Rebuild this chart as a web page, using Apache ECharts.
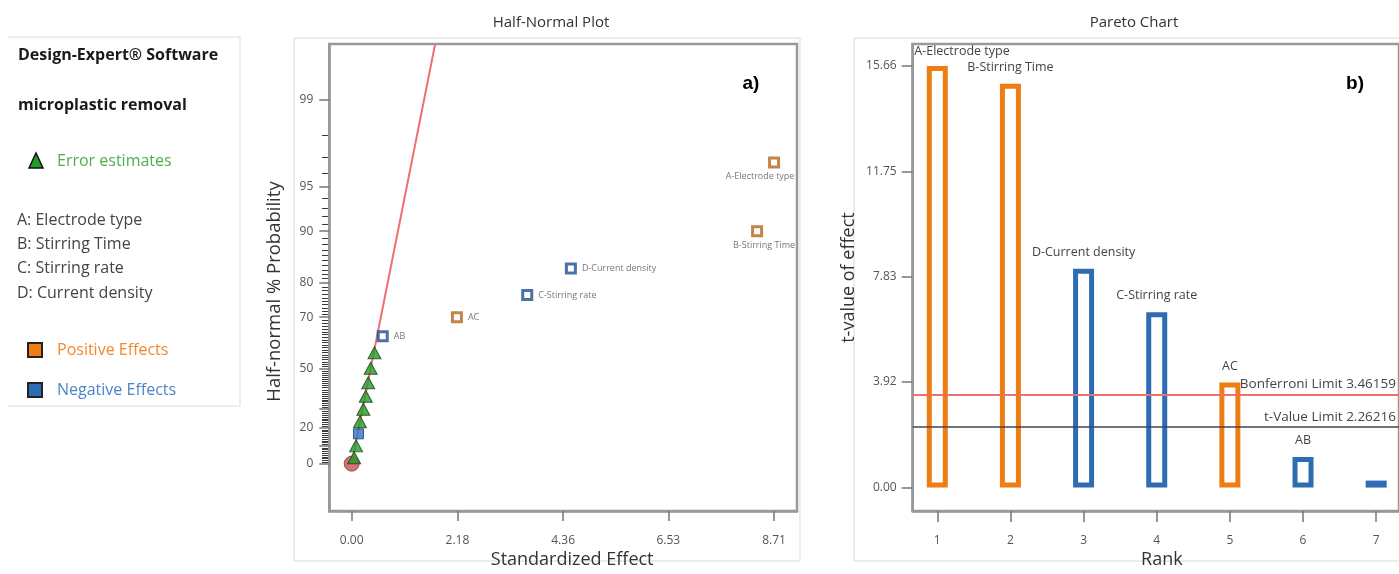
<!DOCTYPE html>
<html><head><meta charset="utf-8">
<script src="https://cdn.jsdelivr.net/npm/echarts@6/dist/echarts.min.js"></script>
<style>html,body{margin:0;padding:0;background:#fff}#c{width:1399px;height:574px}</style>
</head><body><div id="c"></div>
<script>
// ---------- Half-normal plot data ----------
const errorEffects = [0.05, 0.09, 0.17, 0.24, 0.29, 0.34, 0.39, 0.47];
const errorProbs   = [3.3, 10.0, 23.3, 30.0, 36.7, 43.3, 50.0, 56.7];
const termNames   = ['A-Electrode type', 'B-Stirring Time', 'D-Current density', 'C-Stirring rate', 'AC', 'AB'];
const termEffects = [8.71, 8.36, 4.52, 3.62, 2.17, 0.64];
const termProbs   = [96.7, 90.0, 83.3, 76.7, 70.0, 63.3];
const termSigns   = ['pos', 'pos', 'neg', 'neg', 'pos', 'neg'];
const smallNegEffects = [0.14];
const smallNegProbs   = [16.7];
const originEffect = [0];
const originProb   = [0];
const fitLineEffects = [0, 1.72];
const fitLineProbs   = [0, 99.70];
const halfXTicks = [0, 2.18, 4.36, 6.53, 8.71];
const halfXTickLabels = ['0.00', '2.18', '4.36', '6.53', '8.71'];
const probTicks = [0, 20, 50, 70, 80, 90, 95, 99];
const probMajorTickOnly = [10, 30];
const probMinorTicks = [1,2,3,4,5,6,7,8,9,11,12,13,14,15,16,17,18,19,21,22,23,24,25,26,27,28,29,31,32,33,34,35,36,37,38,39,40,41,42,43,44,45,46,47,48,49,51,52,53,54,55,56,57,58,59,60,61,62,63,64,65,66,67,68,69,71,72,73,74,75,76,77,78,79,81,82,83,84,85,86,87,88,89,91,92,93,94,96,97,98];

// ---------- Pareto chart data ----------
const paretoRanks  = [1, 2, 3, 4, 5, 6, 7];
const paretoNames  = ['A-Electrode type', 'B-Stirring Time', 'D-Current density', 'C-Stirring rate', 'AC', 'AB', ''];
const paretoTValues = [15.66, 15.0, 8.13, 6.51, 3.90, 1.14, 0.26];
const paretoSigns  = ['pos', 'pos', 'neg', 'neg', 'pos', 'neg', 'neg'];
const bonferroniLimit = 3.46159;
const tValueLimit = 2.26216;
const paretoYTicks = [0, 3.92, 7.83, 11.75, 15.66];
const paretoYTickLabels = ['0.00', '3.92', '7.83', '11.75', '15.66'];

// ---------- half-normal scale (probability -> half-normal quantile) ----------
function normInv(p){
  const a=[-3.969683028665376e+01,2.209460984245205e+02,-2.759285104469687e+02,1.383577518672690e+02,-3.066479806614716e+01,2.506628277459239e+00];
  const b=[-5.447609879822406e+01,1.615858368580409e+02,-1.556989798598866e+02,6.680131188771972e+01,-1.328068155288572e+01];
  const c=[-7.784894002430293e-03,-3.223964580411365e-01,-2.400758277161838e+00,-2.549732539343734e+00,4.374664141464968e+00,2.938163982698783e+00];
  const d=[7.784695709041462e-03,3.224671290700398e-01,2.445134137142996e+00,3.754408661907416e+00];
  const pl=0.02425, ph=1-pl; let q,r;
  if(p<pl){q=Math.sqrt(-2*Math.log(p));return (((((c[0]*q+c[1])*q+c[2])*q+c[3])*q+c[4])*q+c[5])/((((d[0]*q+d[1])*q+d[2])*q+d[3])*q+1);}
  if(p<=ph){q=p-0.5;r=q*q;return (((((a[0]*r+a[1])*r+a[2])*r+a[3])*r+a[4])*r+a[5])*q/(((((b[0]*r+b[1])*r+b[2])*r+b[3])*r+b[4])*r+1);}
  q=Math.sqrt(-2*Math.log(1-p));return -(((((c[0]*q+c[1])*q+c[2])*q+c[3])*q+c[4])*q+c[5])/((((d[0]*q+d[1])*q+d[2])*q+d[3])*q+1);
}
const hz = pct => normInv(0.5 + pct / 200);

const FONT = '"Open Sans", "Noto Sans", sans-serif';
const ORANGE = '#ef7d12', BLUE = '#2e6db4';
const BROWN = '#b5651d', NAVY = '#1d4f91';
const AXIS_GRAY = '#999', TICK_GRAY = '#777', LABEL_GRAY = '#555';
const HALF_X_MIN = -0.462, HALF_X_MAX = 9.183, HALF_Y_MIN = -0.336, HALF_Y_MAX = 2.970;

const chart = echarts.init(document.getElementById('c'), null, {renderer: 'canvas'});

const labelProbFromZ = v => {
  let best = 0, bd = Infinity;
  probTicks.forEach((p, i) => { const d = Math.abs(hz(p) - v); if (d < bd) { bd = d; best = i; } });
  return String(probTicks[best]);
};
const nearestIdx = (arr, v) => { let bi = 0, bd = Infinity; arr.forEach((a, i) => { const d = Math.abs(a - v); if (d < bd) { bd = d; bi = i; } }); return bi; };

const termData = termNames.map((n, i) => {
  const item = {value: [termEffects[i], hz(termProbs[i])], name: n,
    itemStyle: {borderColor: termSigns[i] === 'pos' ? BROWN : NAVY}};
  if (i === 0) item.label = {position: 'bottom', distance: 4, offset: [-14, 0]};
  if (i === 1) item.label = {position: 'bottom', distance: 4, offset: [7, 0]};
  return item;
});

const barData = paretoRanks.map((r, i) => {
  const col = paretoSigns[i] === 'pos' ? ORANGE : BLUE;
  const item = {value: [r, paretoTValues[i]], name: paretoNames[i], itemStyle: {borderColor: col, color: i === 6 ? col : '#fff'}};
  if (i === 0) item.label = {align: 'left', offset: [-23, 2]};
  return item;
});

const option = {
  animation: false,
  textStyle: {fontFamily: FONT},
  title: [
    {text: 'Half-Normal Plot', left: 546, top: 10, textAlign: 'center', textStyle: {fontSize: 15, fontWeight: 'normal', color: '#333', fontFamily: FONT}},
    {text: 'Pareto Chart', left: 1129, top: 10, textAlign: 'center', textStyle: {fontSize: 15, fontWeight: 'normal', color: '#333', fontFamily: FONT}}
  ],
  grid: [
    {left: 329.3, top: 44, width: 467.7, height: 477.7, show: true, borderColor: AXIS_GRAY, borderWidth: 2.5, backgroundColor: 'transparent'},
    {left: 912.7, top: 44, width: 487.3, height: 476.7, show: true, borderColor: AXIS_GRAY, borderWidth: 2.5, backgroundColor: 'transparent'}
  ],
  xAxis: [
    {type: 'value', gridIndex: 0, min: HALF_X_MIN, max: HALF_X_MAX,
     name: 'Standardized Effect', nameLocation: 'middle', nameGap: 39,
     nameTextStyle: {fontSize: 18, color: '#333', fontFamily: FONT, padding: [0, 0, 0, 18]},
     axisLine: {show: true, onZero: false, lineStyle: {color: AXIS_GRAY, width: 2.5}},
     axisTick: {show: true, customValues: halfXTicks, length: 10, lineStyle: {color: TICK_GRAY, width: 1.5}},
     axisLabel: {customValues: halfXTicks, margin: 23, fontSize: 12, color: LABEL_GRAY,
       formatter: v => halfXTickLabels[nearestIdx(halfXTicks, v)]},
     splitLine: {show: false}},
    {type: 'value', gridIndex: 1, min: 0.664, max: 7.312,
     name: 'Rank', nameLocation: 'middle', nameGap: 38,
     nameTextStyle: {fontSize: 18, color: '#333', fontFamily: FONT, padding: [0, 0, 0, 12]},
     axisLine: {show: true, onZero: false, lineStyle: {color: AXIS_GRAY, width: 2.5}},
     axisTick: {show: true, customValues: paretoRanks, length: 11, lineStyle: {color: TICK_GRAY, width: 1.5}},
     axisLabel: {customValues: paretoRanks, margin: 23, fontSize: 12, color: LABEL_GRAY, formatter: v => String(Math.round(v))},
     splitLine: {show: false}}
  ],
  yAxis: [
    {type: 'value', gridIndex: 0, min: HALF_Y_MIN, max: HALF_Y_MAX, position: 'left',
     name: 'Half-normal % Probability', nameLocation: 'middle', nameGap: 45,
     nameTextStyle: {fontSize: 18.5, color: '#333', fontFamily: FONT, padding: [0, 28, 0, 0]},
     axisLine: {show: true, onZero: false, lineStyle: {color: AXIS_GRAY, width: 2.5}},
     axisTick: {show: true, customValues: probTicks.concat(probMajorTickOnly).map(hz), length: 10, lineStyle: {color: TICK_GRAY, width: 1.5}},
     axisLabel: {customValues: probTicks.map(hz), margin: 16, fontSize: 12, color: LABEL_GRAY, formatter: labelProbFromZ},
     splitLine: {show: false}},
    {type: 'value', gridIndex: 1, min: -0.874, max: 16.48,
     name: 't-value of effect', nameLocation: 'middle', nameGap: 55,
     nameTextStyle: {fontSize: 18, color: '#333', fontFamily: FONT},
     axisLine: {show: true, onZero: false, lineStyle: {color: AXIS_GRAY, width: 2.5}},
     axisTick: {show: true, customValues: paretoYTicks, length: 11, lineStyle: {color: TICK_GRAY, width: 1.5}},
     axisLabel: {customValues: paretoYTicks, margin: 16, fontSize: 12, color: LABEL_GRAY,
       formatter: v => paretoYTickLabels[nearestIdx(paretoYTicks, v)]},
     splitLine: {show: false}}
  ],
  series: [
    // dense probability-paper ticks, placed through the y scale on the axis
    {type: 'custom', xAxisIndex: 0, yAxisIndex: 0, silent: true, clip: false,
     data: probMinorTicks.map(p => [HALF_X_MIN, hz(p)]),
     renderItem: (params, api) => {
       const pt = api.coord([api.value(0), api.value(1)]);
       const y = Math.round(pt[1]) + 0.5, x = Math.round(pt[0]);
       return {type: 'line', shape: {x1: x - 7, y1: y, x2: x - 1, y2: y},
               style: {stroke: '#3a3a3a', lineWidth: 1}};
     }, z: 6},
    {type: 'line', xAxisIndex: 0, yAxisIndex: 0, symbol: 'none', silent: true,
     data: fitLineEffects.map((e, i) => [e, hz(fitLineProbs[i])]),
     lineStyle: {color: '#f07070', width: 2}, z: 2},
    {type: 'scatter', xAxisIndex: 0, yAxisIndex: 0, symbol: 'circle', symbolSize: 15,
     data: originEffect.map((e, i) => [e, hz(originProb[i])]),
     itemStyle: {color: '#c4524e', borderColor: '#8b3431', borderWidth: 1}, z: 3},
    {type: 'scatter', xAxisIndex: 0, yAxisIndex: 0, symbol: 'triangle', symbolSize: [13, 12],
     data: errorEffects.map((e, i) => [e, hz(errorProbs[i])]),
     itemStyle: {color: '#1f9e28', borderColor: '#1b3b1b', borderWidth: 1}, z: 4},
    {type: 'scatter', xAxisIndex: 0, yAxisIndex: 0, symbol: 'rect', symbolSize: 10,
     data: smallNegEffects.map((e, i) => [e, hz(smallNegProbs[i])]),
     itemStyle: {color: '#2e75c8', borderColor: '#1b3f73', borderWidth: 1}, z: 4},
    {type: 'scatter', xAxisIndex: 0, yAxisIndex: 0, symbol: 'rect', symbolSize: 9,
     data: termData,
     itemStyle: {color: '#fff', borderWidth: 3},
     label: {show: true, position: 'right', distance: 5, formatter: '{b}', fontSize: 9, color: '#555', fontFamily: FONT}, z: 5},
    {type: 'bar', xAxisIndex: 1, yAxisIndex: 1, barWidth: 21,
     data: barData,
     itemStyle: {borderWidth: 5},
     label: {show: true, position: 'top', distance: 10, formatter: '{b}', fontSize: 12.5, color: '#444', fontFamily: FONT},
     markLine: {silent: true, symbol: 'none', animation: false,
       data: [
         {yAxis: bonferroniLimit, lineStyle: {color: '#f07070', width: 2, type: 'solid'},
          label: {show: true, position: 'insideEndTop', distance: 3, formatter: 'Bonferroni Limit ' + bonferroniLimit, fontSize: 13.5, color: '#444', fontFamily: FONT}},
         {yAxis: tValueLimit, lineStyle: {color: '#444', width: 1.5, type: 'solid'},
          label: {show: true, position: 'insideEndTop', distance: 3, formatter: 't-Value Limit ' + tValueLimit, fontSize: 13.5, color: '#444', fontFamily: FONT}}
       ]}, z: 3}
  ],
  graphic: [
    // outer panel frames
    {type: 'rect', shape: {x: 294, y: 38, width: 506, height: 523}, style: {fill: 'none', stroke: '#d9d9d9', lineWidth: 1}, silent: true, z: -1},
    {type: 'rect', shape: {x: 854, y: 38, width: 560, height: 523}, style: {fill: 'none', stroke: '#d9d9d9', lineWidth: 1}, silent: true, z: -1},
    // left legend panel
    {type: 'polyline', shape: {points: [[8, 37], [240, 37], [240, 406], [8, 406]]}, style: {fill: 'none', stroke: '#dcdcdc', lineWidth: 1}, silent: true},
    {type: 'text', x: 18, y: 55, style: {text: 'Design-Expert\u00AE Software', font: 'bold 16px ' + FONT, fill: '#1a1a1a', textVerticalAlign: 'middle'}},
    {type: 'text', x: 18, y: 105, style: {text: 'microplastic removal', font: 'bold 16px ' + FONT, fill: '#1a1a1a', textVerticalAlign: 'middle'}},
    {type: 'polygon', shape: {points: [[36, 153], [29, 168], [43, 168]]}, style: {fill: '#1f9e28', stroke: '#111', lineWidth: 1.5}},
    {type: 'text', x: 57, y: 161, style: {text: 'Error estimates', font: '16px ' + FONT, fill: '#4fae4f', textVerticalAlign: 'middle'}},
    {type: 'text', x: 17, y: 220, style: {text: 'A: Electrode type', font: '16px ' + FONT, fill: '#444', textVerticalAlign: 'middle'}},
    {type: 'text', x: 17, y: 244, style: {text: 'B: Stirring Time', font: '16px ' + FONT, fill: '#444', textVerticalAlign: 'middle'}},
    {type: 'text', x: 17, y: 268, style: {text: 'C: Stirring rate', font: '16px ' + FONT, fill: '#444', textVerticalAlign: 'middle'}},
    {type: 'text', x: 17, y: 293, style: {text: 'D: Current density', font: '16px ' + FONT, fill: '#444', textVerticalAlign: 'middle'}},
    {type: 'rect', shape: {x: 28, y: 343, width: 14, height: 14}, style: {fill: ORANGE, stroke: '#222', lineWidth: 2}},
    {type: 'text', x: 57, y: 350, style: {text: 'Positive Effects', font: '16px ' + FONT, fill: '#f08a2c', textVerticalAlign: 'middle'}},
    {type: 'rect', shape: {x: 28, y: 383, width: 14, height: 14}, style: {fill: BLUE, stroke: '#222', lineWidth: 2}},
    {type: 'text', x: 57, y: 390, style: {text: 'Negative Effects', font: '16px ' + FONT, fill: '#4a86c8', textVerticalAlign: 'middle'}},
    // panel tags
    {type: 'text', x: 751, y: 84, style: {text: 'a)', font: 'bold 19px "Liberation Sans", Arial, sans-serif', fill: '#000', textAlign: 'center', textVerticalAlign: 'middle'}},
    {type: 'text', x: 1355, y: 84, style: {text: 'b)', font: 'bold 19px "Liberation Sans", Arial, sans-serif', fill: '#000', textAlign: 'center', textVerticalAlign: 'middle'}}
  ]
};
chart.setOption(option);
</script>
</body></html>
